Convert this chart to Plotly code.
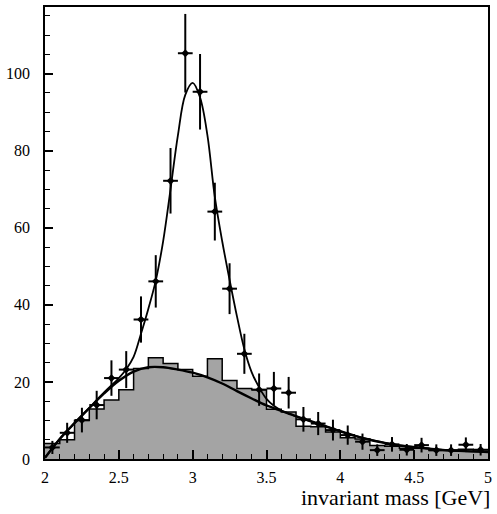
import plotly.graph_objects as go

# ---- data ----
bin_centers = [2.05, 2.15, 2.25, 2.35, 2.45, 2.55, 2.65, 2.75, 2.85, 2.95,
               3.05, 3.15, 3.25, 3.35, 3.45, 3.55, 3.65, 3.75, 3.85, 3.95,
               4.05, 4.15, 4.25, 4.35, 4.45, 4.55, 4.65, 4.75, 4.85, 4.95]
bin_width = 0.1

# background histogram (shaded)
bkg_hist = [4.0, 5.0, 10.0, 13.0, 15.3, 18.0, 23.5, 26.3, 24.8, 23.2,
            21.5, 26.0, 20.4, 18.3, 18.0, 12.9, 12.2, 8.5, 8.4, 7.0,
            5.5, 5.2, 3.5, 3.3, 2.8, 2.8, 2.2, 2.2, 2.5, 2.0]

# data points with errors
data_y = [3.0, 6.8, 10.1, 14.0, 21.0, 23.2, 36.2, 46.1, 72.2, 105.3,
          95.3, 64.2, 44.2, 27.3, 18.0, 18.3, 17.2, 10.3, 9.2, 7.5,
          6.2, 4.5, 2.3, 3.8, 2.4, 3.6, 2.3, 2.3, 3.7, 2.4]
data_err = [1.7, 2.6, 3.2, 3.7, 4.6, 4.8, 6.0, 6.8, 8.5, 10.2,
            9.8, 7.5, 6.6, 5.2, 4.2, 4.3, 4.1, 3.2, 3.0, 2.7,
            2.5, 2.1, 1.5, 1.9, 1.5, 1.9, 1.5, 1.5, 1.9, 1.5]

# fitted background curve
bkg_curve_x = [2.0, 2.1, 2.2, 2.3, 2.4, 2.5, 2.6, 2.7, 2.8, 2.9, 3.0,
               3.1, 3.2, 3.3, 3.4, 3.5, 3.6, 3.7, 3.8, 3.9, 4.0, 4.1,
               4.2, 4.3, 4.4, 4.6, 4.8, 5.0]
bkg_curve_y = [0.3, 5.2, 9.3, 13.2, 17.0, 20.3, 22.7, 23.8, 23.8, 23.2, 22.4,
               21.2, 19.6, 17.6, 15.7, 13.9, 12.5, 11.1, 9.8, 8.5, 7.2, 6.0,
               5.0, 4.2, 3.5, 2.7, 2.1, 1.8]

# fitted signal + background curve
tot_curve_x = [2.0, 2.1, 2.2, 2.3, 2.4, 2.5, 2.55, 2.6, 2.65, 2.7, 2.75,
               2.8, 2.85, 2.9, 2.95, 3.0, 3.05, 3.1, 3.15, 3.2, 3.25,
               3.3, 3.35, 3.4, 3.45, 3.5, 3.55, 3.6, 3.7, 3.8, 3.9,
               4.0, 4.1, 4.2, 4.3, 4.4, 4.6, 4.8, 5.0]
tot_curve_y = [0.3, 5.2, 9.3, 13.3, 17.3, 21.0, 23.3, 26.5, 32.5, 39.0, 46.3,
               56.5, 70.0, 84.0, 94.5, 97.6, 93.8, 84.0, 68.0, 56.5, 46.5,
               37.0, 28.5, 22.5, 18.6, 15.6, 13.8, 12.6, 11.1, 9.8, 8.5,
               7.2, 6.0, 5.0, 4.2, 3.5, 2.7, 2.1, 1.8]

x_ticks = [2, 2.5, 3, 3.5, 4, 4.5, 5]
x_tick_text = ["2", "2.5", "3", "3.5", "4", "4.5", "5"]
y_ticks = [0, 20, 40, 60, 80, 100]
x_title = "invariant mass [GeV]"

# ---- figure ----
edges = [c - bin_width / 2 for c in bin_centers] + [bin_centers[-1] + bin_width / 2]
hist_y = bkg_hist + [bkg_hist[-1]]

fig = go.Figure()
fig.add_trace(go.Scatter(
    x=edges, y=hist_y, mode="lines", line=dict(shape="hv", color="black", width=1.5),
    fill="tozeroy", fillcolor="#a4a4a4", hoverinfo="skip"))
fig.add_trace(go.Scatter(
    x=bkg_curve_x, y=bkg_curve_y, mode="lines",
    line=dict(shape="spline", smoothing=1.0, color="black", width=2.4)))
fig.add_trace(go.Scatter(
    x=tot_curve_x, y=tot_curve_y, mode="lines",
    line=dict(shape="spline", smoothing=1.0, color="black", width=1.8)))
fig.add_trace(go.Scatter(
    x=bin_centers, y=data_y, mode="markers",
    marker=dict(symbol="diamond", size=6, color="black"),
    error_y=dict(type="data", array=data_err, thickness=2, width=0, color="black"),
    error_x=dict(type="constant", value=bin_width / 2, thickness=2, width=0, color="black")))

serif = "Liberation Serif, Times New Roman, serif"
axis_font = dict(family=serif, size=16, color="black")
fig.update_layout(
    width=497, height=514,
    margin=dict(l=45, r=5, t=6, b=55),
    plot_bgcolor="white", paper_bgcolor="white",
    showlegend=False,
    font=axis_font,
    xaxis=dict(range=[2, 5], tickvals=x_ticks, ticktext=x_tick_text,
               ticks="inside", ticklen=9, tickwidth=1.5, tickcolor="black",
               minor=dict(dtick=0.1, ticks="inside", ticklen=5, tickcolor="black", tickwidth=1),
               showline=True, linecolor="black", linewidth=1.5, mirror=True,
               showgrid=False, zeroline=False, tickfont=axis_font, ticklabelstandoff=3),
    yaxis=dict(range=[0, 117.3], tickvals=y_ticks,
               ticks="inside", ticklen=8, tickwidth=1.5, tickcolor="black",
               minor=dict(dtick=5, ticks="inside", ticklen=5, tickcolor="black", tickwidth=1),
               showline=True, linecolor="black", linewidth=1.5, mirror=True,
               showgrid=False, zeroline=False, tickfont=axis_font, ticklabelstandoff=10),
    annotations=[dict(text=x_title, xref="paper", yref="paper", x=1.0, y=0,
                      xanchor="right", yanchor="middle", yshift=-38, xshift=4,
                      showarrow=False,
                      font=dict(family=serif, size=22, color="black"))],
)

fig.write_html("out.html")
